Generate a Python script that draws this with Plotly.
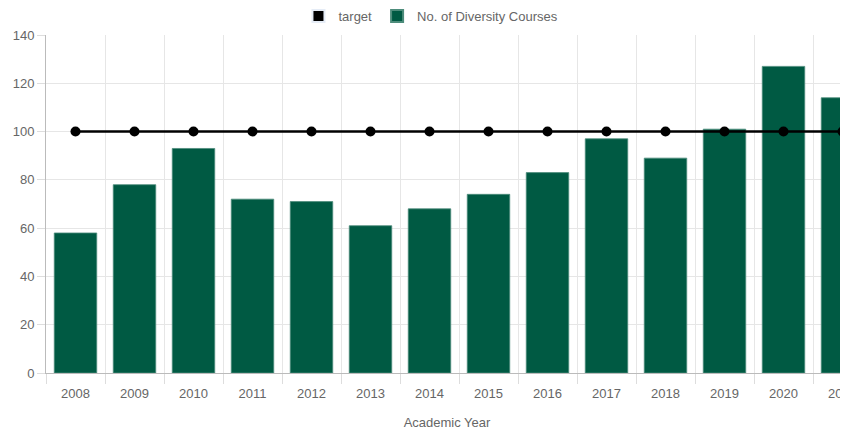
import plotly.graph_objects as go

years = ["2008", "2009", "2010", "2011", "2012", "2013", "2014", "2015", "2016", "2017", "2018", "2019", "2020", "2021"]
courses = [58, 78, 93, 72, 71, 61, 68, 74, 83, 97, 89, 101, 127, 114]
target = [100] * len(years)

fig = go.Figure()
# legend-only box for the target line (Chart.js style box legend)
fig.add_trace(go.Bar(
    x=[years[0]], y=[None], name="target", legendgroup="target",
    marker=dict(color="#000000"), hoverinfo="skip",
))
fig.add_trace(go.Bar(
    x=years, y=courses, name="No. of Diversity Courses",
    marker=dict(color="#005a43", line=dict(color="#4d8c7b", width=0.8)),
))
fig.add_trace(go.Scatter(
    x=years, y=target, name="target", mode="lines+markers", legendgroup="target",
    showlegend=False,
    line=dict(color="#000000", width=2.5),
    marker=dict(color="#000000", size=10),
))

# page body has an 8px margin, so the figure is sized to fill the rest of the window
W, H = 840, 425
left, top, bottom = 38, 27, 60
cat_w = 59.0
plot_w = W - left
fig.update_layout(
    width=W, height=H,
    margin=dict(l=left, r=0, t=top, b=bottom, autoexpand=False),
    plot_bgcolor="white", paper_bgcolor="white",
    barmode="overlay",
    bargap=0.28,
    font=dict(family="Liberation Sans, Arial, sans-serif", size=12, color="#666666"),
    legend=dict(orientation="h", x=0.48, xanchor="center", y=1.012, yanchor="bottom",
                traceorder="normal", font=dict(size=13, color="#666666"),
                itemsizing="constant"),
    xaxis=dict(
        type="category", range=[-0.5, -0.5 + plot_w / cat_w], automargin=False,
        tickson="boundaries", ticks="outside", ticklen=10, tickcolor="#dddddd",
        ticklabelstandoff=8,
        showgrid=True, gridcolor="#e6e6e6", showline=True, linecolor="#bbbbbb",
        tickfont=dict(size=13, color="#666666"),
        title=dict(text="Academic Year", font=dict(size=13, color="#666666"), standoff=18),
    ),
    yaxis=dict(
        range=[0, 140], dtick=20, ticks="outside", ticklen=8, tickcolor="#dddddd",
        automargin=False,
        showgrid=True, gridcolor="#e6e6e6", showline=True, linecolor="#bbbbbb",
        zeroline=False, tickfont=dict(size=13, color="#666666"),
    ),
)
fig.write_html("out.html")
